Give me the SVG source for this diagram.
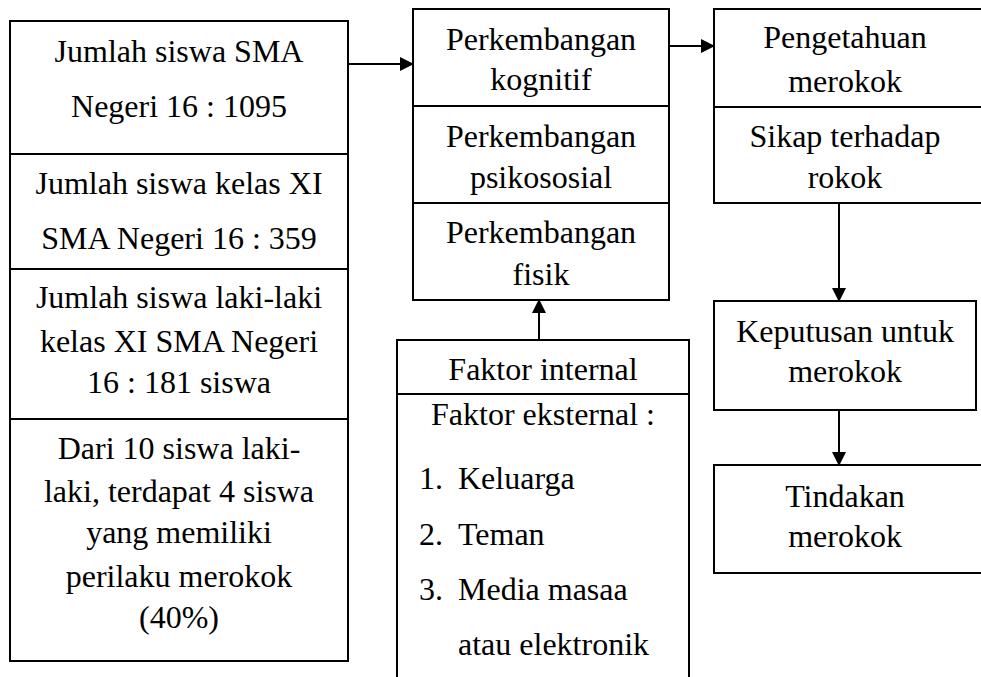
<svg xmlns="http://www.w3.org/2000/svg" width="981" height="677" viewBox="0 0 981 677" font-family="'Liberation Serif', 'Times New Roman', Tinos, 'DejaVu Serif', serif" font-size="32">
<defs>
<style>
.box{fill:#fff;stroke:#000;stroke-width:2}
.ln{stroke:#000;stroke-width:2;fill:none}
.c{text-anchor:middle}
</style>
<marker id="ah" markerWidth="14" markerHeight="14" refX="13" refY="7" orient="auto" markerUnits="userSpaceOnUse">
<path d="M0,0 L14,7 L0,14 Z" fill="#000"/>
</marker>
</defs>
<rect width="981" height="677" fill="#fff"/>

<g id="node-left">
<rect class="box" x="10" y="21" width="338" height="640"/>
<line class="ln" x1="10" y1="154" x2="348" y2="154"/>
<line class="ln" x1="10" y1="269" x2="348" y2="269"/>
<line class="ln" x1="10" y1="419" x2="348" y2="419"/>
<text class="c" x="179" y="62">Jumlah siswa SMA</text>
<text class="c" x="179" y="117">Negeri 16 : 1095</text>
<text class="c" x="179" y="194">Jumlah siswa kelas XI</text>
<text class="c" x="179" y="249">SMA Negeri 16 : 359</text>
<text class="c" x="179" y="308">Jumlah siswa laki-laki</text>
<text class="c" x="179" y="352">kelas XI SMA Negeri</text>
<text class="c" x="179" y="393">16 : 181 siswa</text>
<text class="c" x="179" y="459">Dari 10 siswa laki-</text>
<text class="c" x="179" y="502">laki, terdapat 4 siswa</text>
<text class="c" x="179" y="543">yang memiliki</text>
<text class="c" x="179" y="587">perilaku merokok</text>
<text class="c" x="179" y="628">(40%)</text>
</g>

<g id="node-perkembangan">
<rect class="box" x="413" y="9" width="256" height="291"/>
<line class="ln" x1="413" y1="106" x2="669" y2="106"/>
<line class="ln" x1="413" y1="203" x2="669" y2="203"/>
<text class="c" x="541" y="50">Perkembangan</text>
<text class="c" x="541" y="90">kognitif</text>
<text class="c" x="541" y="147">Perkembangan</text>
<text class="c" x="541" y="188">psikososial</text>
<text class="c" x="541" y="243">Perkembangan</text>
<text class="c" x="541" y="285">fisik</text>
</g>

<g id="node-faktor">
<path class="ln" d="M397,690 L397,340 L689,340 L689,690"/>
<line class="ln" x1="397" y1="394" x2="689" y2="394"/>
<text class="c" x="543" y="380">Faktor internal</text>
<text class="c" x="543" y="425">Faktor eksternal :</text>
<text x="419" y="489">1.</text>
<text x="458" y="489">Keluarga</text>
<text x="419" y="545">2.</text>
<text x="458" y="545">Teman</text>
<text x="419" y="600">3.</text>
<text x="458" y="600">Media masaa</text>
<text x="458" y="655">atau elektronik</text>
</g>

<g id="node-pengetahuan">
<rect class="box" x="714" y="9" width="280" height="194"/>
<line class="ln" x1="714" y1="107" x2="994" y2="107"/>
<text class="c" x="845" y="48">Pengetahuan</text>
<text class="c" x="845" y="92">merokok</text>
<text class="c" x="845" y="147">Sikap terhadap</text>
<text class="c" x="845" y="188">rokok</text>
</g>

<g id="node-keputusan">
<rect class="box" x="714" y="301" width="262" height="109"/>
<text class="c" x="845" y="342">Keputusan untuk</text>
<text class="c" x="845" y="382">merokok</text>
</g>

<g id="node-tindakan">
<rect class="box" x="714" y="465" width="280" height="108"/>
<text class="c" x="845" y="507">Tindakan</text>
<text class="c" x="845" y="547">merokok</text>
</g>

<g id="connectors">
<line class="ln" x1="348" y1="64" x2="413" y2="64" marker-end="url(#ah)"/>
<line class="ln" x1="669" y1="46" x2="714" y2="46" marker-end="url(#ah)"/>
<line class="ln" x1="539" y1="340" x2="539" y2="300" marker-end="url(#ah)"/>
<line class="ln" x1="839" y1="203" x2="839" y2="301" marker-end="url(#ah)"/>
<line class="ln" x1="839" y1="410" x2="839" y2="465" marker-end="url(#ah)"/>
</g>
</svg>
